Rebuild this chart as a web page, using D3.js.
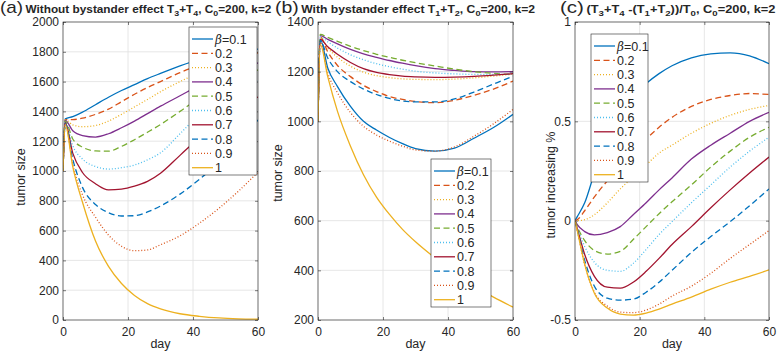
<!DOCTYPE html>
<html>
<head>
<meta charset="utf-8">
<script src="https://cdn.jsdelivr.net/npm/d3@7"></script>
<style>
body { margin: 0; background: #fff; }
svg text { font-family: "Liberation Sans", Arial, sans-serif; fill: #262626; }
</style>
</head>
<body>
<svg id="chart" width="777" height="353"></svg>
<script>
// sample days (same for every curve)
const days = [0, 0.7, 3, 6, 10, 14, 18, 22, 26, 30, 36, 42, 48, 54, 60];
const betaLabels = ["=0.1", "0.2", "0.3", "0.4", "0.5", "0.6", "0.7", "0.8", "0.9", "1"];
const dayTicks = [0, 20, 40, 60];
const sizeTicksA = [0, 200, 400, 600, 800, 1000, 1200, 1400, 1600, 1800, 2000];
const sizeTicksB = [200, 400, 600, 800, 1000, 1200, 1400];
const increaseTicks = [-0.5, 0, 0.5, 1];

// (a) without bystander effect, one row per beta
const sizeNoBystander = [
  [1000, 1350, 1365, 1395, 1445, 1495, 1540, 1580, 1620, 1655, 1705, 1750, 1785, 1805, 1818],
  [1000, 1345, 1345, 1355, 1380, 1415, 1465, 1515, 1560, 1600, 1660, 1710, 1750, 1775, 1792],
  [1000, 1343, 1310, 1297, 1305, 1335, 1380, 1430, 1480, 1532, 1600, 1660, 1705, 1735, 1758],
  [1000, 1340, 1270, 1238, 1228, 1250, 1290, 1335, 1385, 1435, 1505, 1575, 1635, 1685, 1725],
  [1000, 1335, 1215, 1160, 1135, 1133, 1165, 1210, 1260, 1312, 1400, 1490, 1565, 1630, 1678],
  [1000, 1330, 1170, 1080, 1030, 1013, 1022, 1040, 1075, 1122, 1250, 1380, 1480, 1550, 1604],
  [1000, 1325, 1120, 990, 915, 873, 878, 898, 930, 985, 1105, 1225, 1335, 1425, 1497],
  [1000, 1320, 1080, 890, 775, 720, 698, 700, 725, 765, 845, 945, 1060, 1195, 1342],
  [1000, 1318, 1045, 840, 690, 570, 495, 465, 470, 505, 565, 650, 750, 865, 993],
  [1000, 1310, 1030, 790, 530, 360, 245, 165, 110, 75, 42, 25, 14, 8, 5]
];

// (b) with bystander effect
const sizeBystander = [
  [1000, 1330, 1215, 1140, 1060, 1000, 965, 935, 910, 890, 880, 892, 932, 975, 1028],
  [1000, 1340, 1280, 1225, 1180, 1145, 1120, 1100, 1088, 1080, 1075, 1085, 1105, 1130, 1162],
  [1000, 1335, 1295, 1258, 1222, 1198, 1184, 1176, 1171, 1169, 1168, 1170, 1175, 1182, 1190],
  [1000, 1345, 1330, 1312, 1290, 1272, 1258, 1245, 1234, 1224, 1212, 1205, 1200, 1199, 1200],
  [1000, 1350, 1338, 1322, 1302, 1285, 1270, 1258, 1246, 1236, 1223, 1210, 1200, 1193, 1188],
  [1000, 1340, 1320, 1295, 1268, 1248, 1232, 1220, 1210, 1202, 1195, 1191, 1189, 1189, 1190],
  [1000, 1330, 1300, 1270, 1237, 1212, 1197, 1188, 1182, 1179, 1177, 1178, 1181, 1186, 1192],
  [1000, 1325, 1255, 1200, 1160, 1130, 1108, 1092, 1082, 1078, 1078, 1090, 1118, 1150, 1182],
  [1000, 1320, 1195, 1115, 1035, 980, 945, 920, 900, 885, 880, 897, 940, 990, 1048],
  [1000, 1310, 1180, 1040, 900, 785, 695, 625, 565, 515, 450, 390, 338, 292, 252]
];

// (c) relative increase
const increase = [
  [0, 0.02, 0.09, 0.24, 0.42, 0.55, 0.63, 0.69, 0.74, 0.78, 0.82, 0.84, 0.845, 0.83, 0.79],
  [0, 0.005, 0.05, 0.12, 0.2, 0.27, 0.34, 0.41, 0.47, 0.52, 0.575, 0.61, 0.63, 0.64, 0.635],
  [0, 0, 0.005, 0.03, 0.09, 0.16, 0.22, 0.28, 0.34, 0.38, 0.44, 0.49, 0.53, 0.56, 0.58],
  [0, -0.02, -0.055, -0.072, -0.06, -0.03, 0.03, 0.09, 0.155, 0.215, 0.31, 0.38, 0.44, 0.5, 0.545],
  [0, -0.03, -0.1, -0.15, -0.168, -0.155, -0.095, -0.03, 0.035, 0.095, 0.18, 0.27, 0.35, 0.42, 0.47],
  [0, -0.035, -0.13, -0.21, -0.25, -0.255, -0.215, -0.145, -0.07, -0.005, 0.09, 0.18, 0.27, 0.35, 0.42],
  [0, -0.04, -0.17, -0.28, -0.335, -0.34, -0.31, -0.255, -0.19, -0.12, -0.03, 0.065, 0.155, 0.24, 0.32],
  [0, -0.045, -0.2, -0.33, -0.39, -0.4, -0.395, -0.36, -0.31, -0.25, -0.16, -0.08, -0.005, 0.075, 0.16],
  [0, -0.05, -0.22, -0.36, -0.43, -0.46, -0.463, -0.45, -0.42, -0.38, -0.33, -0.265, -0.19, -0.12, -0.05],
  [0, -0.05, -0.22, -0.365, -0.44, -0.47, -0.475, -0.465, -0.445, -0.42, -0.385, -0.345, -0.31, -0.28, -0.248]
];

// matlab default line colours, and the styles used per beta
const colors = ["#0072BD", "#D95319", "#EDB120", "#7E2F8E", "#77AC30", "#4DBEEE", "#A2142F", "#0072BD", "#D95319", "#EDB120"];
const dashes = [null, "6,3.5", "1,2", null, "6,3.5", "1,2", null, "6,3.5", "1,2", null];

const svg = d3.select("#chart");
const axisColor = "#262626";
const gridColor = "#dfdfdf";

function drawTitle(g, cfg){
    const tg = g.append("g");
    const t = tg.append("text").attr("x", 0).attr("y", 13.3);
    t.append("tspan").attr("font-size", 16).text(cfg.letter);
    let shift = 0; // pending baseline return after a subscript
    cfg.titleParts.forEach((p, i) => {
        const s = t.append("tspan").attr("font-weight", "bold");
        if(i === 0) s.attr("dx", 2);
        if(p.sub){
            s.attr("font-size", 7.5).attr("dy", 3 - shift).text(p.sub);
            shift = 3;
        } else {
            s.attr("font-size", 10).attr("dy", -shift).text(p.text);
            shift = 0;
        }
    });
    // the reference text is a bit stretched horizontally, fit it to its span
    const w = t.node().getBBox().width;
    tg.attr("transform", "translate(" + cfg.titleX + ",0) scale(" + (cfg.titleW / w) + ",1)");
}

function drawPanel(cfg){
    const g = svg.append("g");
    const x = d3.scaleLinear().domain([0, 60]).range([cfg.left, cfg.right]);
    const y = d3.scaleLinear().domain(cfg.yDomain).range([cfg.bottom, cfg.top]);

    // grid
    g.selectAll(".vgrid").data(dayTicks).enter().append("line")
        .attr("x1", d => x(d)).attr("x2", d => x(d))
        .attr("y1", cfg.top).attr("y2", cfg.bottom)
        .attr("stroke", gridColor).attr("stroke-width", 0.8);
    g.selectAll(".hgrid").data(cfg.yTicks).enter().append("line")
        .attr("x1", cfg.left).attr("x2", cfg.right)
        .attr("y1", d => y(d)).attr("y2", d => y(d))
        .attr("stroke", gridColor).attr("stroke-width", 0.8);

    // curves
    const clipId = "clip" + cfg.id;
    g.append("clipPath").attr("id", clipId).append("rect")
        .attr("x", cfg.left).attr("y", cfg.top)
        .attr("width", cfg.right - cfg.left).attr("height", cfg.bottom - cfg.top);
    const line = d3.line()
        .x((d, i) => x(days[i]))
        .y(d => y(d))
        .curve(d3.curveMonotoneX);
    g.append("g").attr("clip-path", "url(#" + clipId + ")")
        .selectAll("path").data(cfg.series).enter().append("path")
        .attr("d", d => line(d))
        .attr("fill", "none")
        .attr("stroke", (d, i) => colors[i])
        .attr("stroke-width", 1.3)
        .attr("stroke-dasharray", (d, i) => dashes[i]);

    // axes, ticks point inward, box on
    g.append("g").attr("transform", "translate(0," + cfg.bottom + ")")
        .call(d3.axisBottom(x).tickValues(dayTicks).tickSize(-3).tickPadding(7).tickFormat(d => d));
    g.append("g").attr("transform", "translate(" + cfg.left + ",0)")
        .call(d3.axisLeft(y).tickValues(cfg.yTicks).tickSize(-3).tickPadding(4).tickFormat(d => String(d)));
    g.append("g").attr("transform", "translate(0," + cfg.top + ")")
        .call(d3.axisTop(x).tickValues(dayTicks).tickSize(-3).tickFormat(""));
    g.append("g").attr("transform", "translate(" + cfg.right + ",0)")
        .call(d3.axisRight(y).tickValues(cfg.yTicks).tickSize(-3).tickFormat(""));
    g.selectAll(".domain").remove();
    g.selectAll(".tick line").attr("stroke", axisColor).attr("stroke-width", 0.6);
    g.selectAll(".tick text").attr("font-size", 12).attr("font-family", null).attr("fill", axisColor);
    g.append("rect")
        .attr("x", cfg.left).attr("y", cfg.top)
        .attr("width", cfg.right - cfg.left).attr("height", cfg.bottom - cfg.top)
        .attr("fill", "none").attr("stroke", axisColor).attr("stroke-width", 0.6);

    // labels
    g.append("text")
        .attr("x", (cfg.left + cfg.right) / 2).attr("y", 348)
        .attr("text-anchor", "middle").attr("font-size", 12.5)
        .text("day");
    g.append("text")
        .attr("transform", "translate(" + cfg.ylabelX + "," + cfg.ylabelY + ") rotate(-90)")
        .attr("text-anchor", "middle").attr("font-size", 12.5)
        .text(cfg.ylabel);

    drawTitle(g, cfg);

    // legend
    const L = cfg.legend;
    const lg = g.append("g");
    lg.append("rect")
        .attr("x", L.x).attr("y", L.y).attr("width", L.w).attr("height", L.h)
        .attr("fill", "#fff").attr("stroke", axisColor).attr("stroke-width", 0.6);
    const rows = lg.selectAll(".row").data(betaLabels).enter().append("g")
        .attr("transform", (d, i) => "translate(" + L.x + "," + (L.y + 12 + i * 14.3) + ")");
    rows.append("line")
        .attr("x1", 3).attr("x2", 24).attr("y1", 0).attr("y2", 0)
        .attr("stroke", (d, i) => colors[i])
        .attr("stroke-width", 1.3)
        .attr("stroke-dasharray", (d, i) => dashes[i]);
    rows.append("text")
        .attr("x", 26).attr("y", 4.5).attr("font-size", 12.5)
        .each(function(d, i){
            const el = d3.select(this);
            if(i === 0){
                el.append("tspan").attr("font-family", "'DejaVu Serif', serif").attr("font-style", "italic").attr("font-size", 12).text("β");
            }
            el.append("tspan").text(d);
        });
}

drawPanel({
    id: "a", left: 63, right: 258, top: 22, bottom: 320,
    yDomain: [0, 2000], yTicks: sizeTicksA, series: sizeNoBystander,
    ylabel: "tumor size", ylabelX: 25, ylabelY: 177,
    titleX: 0, titleW: 272, letter: "(a)",
    titleParts: [{text: "Without bystander effect T"}, {sub: "3"}, {text: "+T"}, {sub: "4"}, {text: ",  C"}, {sub: "0"}, {text: "=200, k=2"}],
    legend: {x: 189, y: 27, w: 68, h: 148}
});

drawPanel({
    id: "b", left: 318, right: 513, top: 22, bottom: 320,
    yDomain: [200, 1400], yTicks: sizeTicksB, series: sizeBystander,
    ylabel: "tumor size", ylabelX: 282, ylabelY: 173,
    titleX: 275, titleW: 261, letter: "(b)",
    titleParts: [{text: "With bystander effect T"}, {sub: "1"}, {text: "+T"}, {sub: "2"}, {text: ",  C"}, {sub: "0"}, {text: "=200, k=2"}],
    legend: {x: 431, y: 159, w: 60, h: 148}
});

drawPanel({
    id: "c", left: 575, right: 769, top: 22, bottom: 320,
    yDomain: [-0.5, 1], yTicks: increaseTicks, series: increase,
    ylabel: "tumor increasing %", ylabelX: 555, ylabelY: 185,
    titleX: 560, titleW: 216, letter: "(c)",
    titleParts: [{text: "(T"}, {sub: "3"}, {text: "+T"}, {sub: "4"}, {text: " -(T"}, {sub: "1"}, {text: "+T"}, {sub: "2"}, {text: "))/T"}, {sub: "0"}, {text: ",  C"}, {sub: "0"}, {text: "=200, k=2"}],
    legend: {x: 591, y: 34, w: 57, h: 148}
});
</script>
</body>
</html>
